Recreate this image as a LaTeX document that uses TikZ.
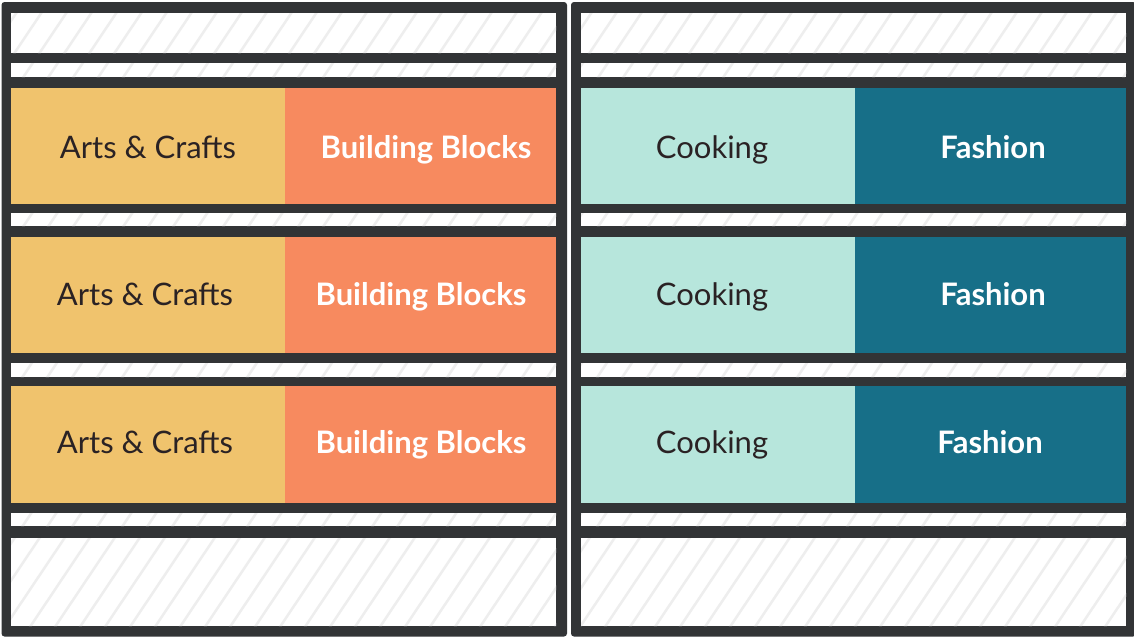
\documentclass[tikz,border=0pt]{standalone}
\usepackage{fontspec}
\setmainfont{Lato}
\definecolor{frame}{HTML}{323436}
\definecolor{arts}{HTML}{F0C36D}
\definecolor{build}{HTML}{F78A5F}
\definecolor{cook}{HTML}{B7E6DC}
\definecolor{fash}{HTML}{176F88}
\definecolor{ink}{HTML}{2A2224}
\definecolor{hatch}{HTML}{EEEEEE}
\begin{document}
\begin{tikzpicture}[x=1pt,y=-1pt,
  cell/.style={draw=none,inner sep=0pt,outer sep=0pt,anchor=north west},
  lbl/.style={anchor=base,inner sep=0pt,font=\fontsize{31}{34}\selectfont},
  dark/.style={lbl,text=ink},
  light/.style={lbl,text=white,font=\fontsize{31}{34}\selectfont\bfseries}]
\useasboundingbox (0,0) rectangle (1134,637);
\fill[white] (0,0) rectangle (1134,637);
% panels
\fill[frame,rounded corners=3pt] (1.5,2) rectangle (567,636.5);
\fill[frame,rounded corners=3pt] (571,2) rectangle (1136,636.5);
% white hatched boxes
\foreach \xa/\xb in {11/556,581/1126}{
  \foreach \ya/\yb in {13/53,63/77,213/226,363/377,513/526,538/626}{
    \fill[white] (\xa,\ya) rectangle (\xb,\yb);
  }
}
\begin{scope}
  \clip (11,13) rectangle (556,53) (11,63) rectangle (556,77)
        (11,213) rectangle (556,226) (11,363) rectangle (556,377)
        (11,513) rectangle (556,526) (11,538) rectangle (556,626)
        (581,13) rectangle (1126,53) (581,63) rectangle (1126,77)
        (581,213) rectangle (1126,226) (581,363) rectangle (1126,377)
        (581,513) rectangle (1126,526) (581,538) rectangle (1126,626);
  \foreach \c in {0,25,...,1600}{
    \draw[hatch,line width=2.5pt] (\c,0) -- ({\c-0.67*640},640);
  }
\end{scope}
% colored rows
\foreach \r/\ya/\yb in {1/88/204,2/237/353,3/386/503}{
  \node[cell,fill=arts,minimum width=274,minimum height={\yb-\ya}] (arts\r) at (11,\ya) {};
  \node[cell,fill=build,minimum width=271,minimum height={\yb-\ya}] (build\r) at (285,\ya) {};
  \node[cell,fill=cook,minimum width=274,minimum height={\yb-\ya}] (cook\r) at (581,\ya) {};
  \node[cell,fill=fash,minimum width=271,minimum height={\yb-\ya}] (fash\r) at (855,\ya) {};
}
% labels
\node[dark] (ta1) at (148,158) {Arts \& Crafts};
\node[light] (tb1) at (426,158) {Building Blocks};
\node[dark] (tc1) at (712,158) {Cooking};
\node[light] (tf1) at (993,158) {Fashion};
\node[dark] (ta2) at (145,305) {Arts \& Crafts};
\node[light] (tb2) at (421,305) {Building Blocks};
\node[dark] (tc2) at (712,305) {Cooking};
\node[light] (tf2) at (993,305) {Fashion};
\node[dark] (ta3) at (145,453) {Arts \& Crafts};
\node[light] (tb3) at (421,453) {Building Blocks};
\node[dark] (tc3) at (712,453) {Cooking};
\node[light] (tf3) at (990,453) {Fashion};
\end{tikzpicture}
\end{document}
